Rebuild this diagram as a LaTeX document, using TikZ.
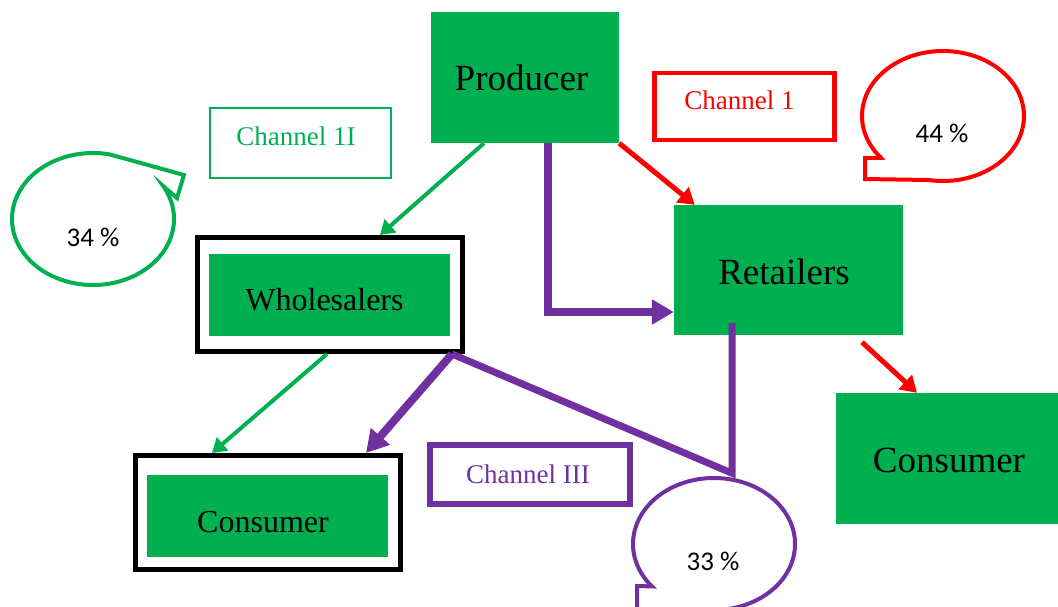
\documentclass[tikz,border=0pt]{standalone}
\usepackage{fontspec}
\setmainfont{Liberation Serif}
\newfontfamily\pctfont{Carlito}
\usetikzlibrary{arrows.meta,calc}
\definecolor{cgreen}{HTML}{00B050}
\definecolor{cred}{HTML}{FF0000}
\definecolor{cpurple}{HTML}{7030A0}

\begin{document}
\begin{tikzpicture}[x=1pt,y=-1pt,
	green_box/.style={fill=cgreen,inner sep=0pt},
	inner_box/.style={fill=cgreen,inner sep=0pt,minimum width=241pt,minimum height=82pt},
	frame_box/.style={draw=black,line width=5pt,minimum width=265pt,minimum height=114pt},
	big_txt/.style={font=\fontsize{37}{40}\selectfont},
	mid_txt/.style={font=\fontsize{32}{36}\selectfont},
	channel_box/.style={draw=#1,inner sep=0pt},
	channel_txt/.style={text=#1,font=\fontsize{27}{30}\selectfont},
	pct_text/.style={font=\pctfont\fontsize{27}{30}\selectfont},
	bubble/.style={draw=#1,line width=4pt,line join=miter},
	green_arrow/.style={draw=cgreen,line width=4pt,-{Triangle[length=14pt,width=17pt]}},
	red_arrow/.style={draw=cred,line width=5pt,-{Triangle[length=16pt,width=19pt]}},
	purple_arrow/.style={draw=cpurple,line width=8pt,-{Triangle[length=22pt,width=24pt]}},
	purple_line/.style={draw=cpurple,line width=7pt}]
	\useasboundingbox (0,0) rectangle (1058,606);

	\node[green_box,minimum width=188pt,minimum height=131pt,
		label={[big_txt,xshift=-3.5pt]center:Producer}] (producer) at (525,77.5) {};
	\node[green_box,minimum width=229pt,minimum height=130pt,
		label={[big_txt,xshift=-4.5pt,yshift=-1.5pt]center:Retailers}] (retailers) at (788.5,270) {};
	\node[green_box,minimum width=222pt,minimum height=131pt,
		label={[big_txt,xshift=2pt,yshift=-1.5pt]center:Consumer}] (consumer_r) at (947,458.5) {};
	\node[frame_box] (whole_frame) at (330,294.5) {};
	\node[inner_box,label={[mid_txt,xshift=-5pt,yshift=-5.5pt]center:Wholesalers}] (wholesalers) at (329.5,294.5) {};
	\node[frame_box] (cons_frame) at (268,512.5) {};
	\node[inner_box,label={[mid_txt,xshift=-4.5pt,yshift=-6.5pt]center:Consumer}] (consumer_l) at (267.5,516) {};

	\node[channel_box=cgreen,line width=2pt,minimum width=181pt,minimum height=70pt,
		label={[channel_txt=cgreen,xshift=-4.5pt,yshift=7pt]center:Channel 1I}] (ch_two) at (300.5,143) {};
	\node[channel_box=cred,line width=4.5pt,minimum width=180pt,minimum height=67pt,
		label={[channel_txt=cred,xshift=-5pt,yshift=6pt]center:Channel 1}] (ch_one) at (744.5,106.5) {};
	\node[channel_box=cpurple,line width=6pt,minimum width=200pt,minimum height=59pt,
		label={[channel_txt=cpurple,xshift=-2pt]center:Channel III}] (ch_three) at (530,474.5) {};

	\draw[green_arrow] ([xshift=-41pt]producer.south) -- ([xshift=50pt]whole_frame.north);
	\draw[purple_arrow] ([xshift=23pt]producer.south) |- ([yshift=-42pt]retailers.west);
	\draw[red_arrow] (producer.south east) -- ([xshift=21pt]retailers.north west);
	\draw[red_arrow] ([xshift=73.5pt,yshift=-7pt]retailers.south) -- ([xshift=-30pt]consumer_r.north);
	\draw[green_arrow] ([xshift=-3pt]whole_frame.south) -- ([xshift=-56pt]cons_frame.north);
	\draw[purple_arrow] ([xshift=-13pt]whole_frame.south east) -- ([xshift=98pt]cons_frame.north);
	\draw[purple_line] ([xshift=-56.5pt,yshift=12pt]retailers.south) -- ++(0,150) -- ([xshift=-13pt]whole_frame.south east);

	% speech bubbles
	\coordinate (b34) at (93,219);
	\draw[bubble=cgreen] ($(b34)+(-78:81 and 66)$) -- (184,175) -- (177,198) -- ($(b34)+(-30:81 and 66)$)
		arc[start angle=-30,end angle=282,x radius=81,y radius=66] -- cycle;
	\node[pct_text] (p34) at (93,237) {34 \%};

	\coordinate (b44) at (943,116);
	\draw[bubble=cred] ($(b44)+(140:81 and 65)$) -- (865,158) -- (865,179) -- ($(b44)+(100:81 and 65)$)
		arc[start angle=100,end angle=-220,x radius=81,y radius=65] -- cycle;
	\node[pct_text] (p44) at (942,133) {44 \%};

	\coordinate (b33) at (714,544);
	\draw[bubble=cpurple] ($(b33)+(140:81 and 66)$) -- (637,586) -- (637,610) -- ($(b33)+(100:81 and 66)$)
		arc[start angle=100,end angle=-220,x radius=81,y radius=66] -- cycle;
	\node[pct_text] (p33) at (713,561) {33 \%};
\end{tikzpicture}
\end{document}
